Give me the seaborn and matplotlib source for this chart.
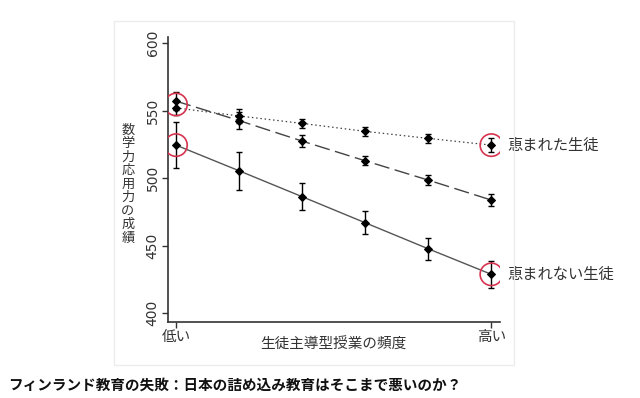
import numpy as np
import pandas as pd
import seaborn as sns
import matplotlib.pyplot as plt
from matplotlib.patches import Rectangle

# 生徒主導型授業の頻度 (低い -> 高い), 6 levels
freq = [0, 1, 2, 3, 4, 5]
xtick_labels = ['低い', '高い']

# 恵まれた生徒 (dotted)
adv_mean = [552, 546, 540.5, 534.6, 529.4, 524.4]
adv_err = [5, 5, 3.5, 3.5, 3.3, 5]
# 中間 (dashed)
mid_mean = [557, 542.6, 527.4, 512.8, 498.5, 483.7]
mid_err = [6.5, 6.5, 4.5, 3.3, 3.5, 4.5]
# 恵まれない生徒 (solid)
dis_mean = [524.4, 505.4, 486.2, 466.9, 447.6, 428.7]
dis_err = [17, 14, 10, 8.5, 8, 10]

circle_x = [0, 0, 5, 5]
circle_y = [554.5, 524.4, 524.4, 428.7]

sns.set_style("white")
plt.rcParams['font.family'] = ['Noto Sans CJK JP', 'DejaVu Sans']

df = pd.DataFrame({
    'freq': freq * 3,
    'score': adv_mean + mid_mean + dis_mean,
    'group': ['adv'] * 6 + ['mid'] * 6 + ['dis'] * 6,
})

fig = plt.figure(figsize=(6.4, 3.98), dpi=100)
ax = fig.add_axes([0.2625, 0.1917, 0.519, 0.715])

styles = {
    'adv': dict(color='#444444', lw=0.9, dashes=(1.2, 2.2)),
    'mid': dict(color='#444444', lw=1.0, dashes=(11, 4)),
    'dis': dict(color='#555555', lw=1.0, dashes=None),
}
errs = {'adv': adv_err, 'mid': mid_err, 'dis': dis_err}

for g, st in styles.items():
    sub = df[df['group'] == g]
    sns.lineplot(data=sub, x='freq', y='score', ax=ax, color=st['color'],
                 lw=st['lw'], marker='D', markersize=3.8,
                 markerfacecolor='black', markeredgecolor='black',
                 legend=False, zorder=3)
    if st['dashes'] is not None:
        ax.lines[-1].set_dashes(st['dashes'])
    ax.errorbar(sub['freq'], sub['score'], yerr=errs[g], fmt='none',
                ecolor='black', elinewidth=1.0, capsize=2.5, capthick=1.0, zorder=4)

ax.scatter(circle_x, circle_y, s=260, facecolors='none', edgecolors='#d6334f',
           linewidths=1.2, zorder=5)

ax.set_xlim(-0.127, 5.14)
ax.set_ylim(393.6, 604.4)
ax.set_xticks([0, 5])
ax.set_xticklabels(xtick_labels, fontsize=10.5, color='#333333')
ax.set_yticks([400, 450, 500, 550, 600])
ax.set_yticklabels(['400', '450', '500', '550', '600'], rotation=90,
                   va='center', fontsize=10, color='#333333',
                   family=['DejaVu Sans'])
ax.tick_params(axis='both', direction='out', length=4, width=1, color='#333333',
               left=True, bottom=True, pad=2)
ax.set_xlabel('')
ax.set_ylabel('')
for s in ['top', 'right']:
    ax.spines[s].set_visible(False)
for s in ['left', 'bottom']:
    ax.spines[s].set_color('#333333')
    ax.spines[s].set_linewidth(1.2)

ax.text(2.5, -0.055, '生徒主導型授業の頻度', transform=ax.get_xaxis_transform(),
        ha='center', va='top', fontsize=10.5, color='#333333')

fig.text(128 / 640, 1 - 184 / 398, '\n'.join('数学力応用力の成績'),
         ha='center', va='center', fontsize=9.5, color='#333333', linespacing=1.05)

ax.text(5.25, 524.4, '恵まれた生徒', ha='left', va='center', fontsize=11,
        color='#333333')
ax.text(5.25, 428.7, '恵まれない生徒', ha='left', va='center', fontsize=11,
        color='#333333')

fig.patches.append(Rectangle((114 / 640, 1 - 365 / 398), 400 / 640, 344 / 398,
                             transform=fig.transFigure, fill=False,
                             edgecolor='#ececec', lw=1))

fig.text(8 / 640, 1 - 385 / 398, 'フィンランド教育の失敗：日本の詰め込み教育はそこまで悪いのか？',
         ha='left', va='center', fontsize=10.5, fontweight='bold', color='#111111')

fig.savefig('out.png', dpi=100)
